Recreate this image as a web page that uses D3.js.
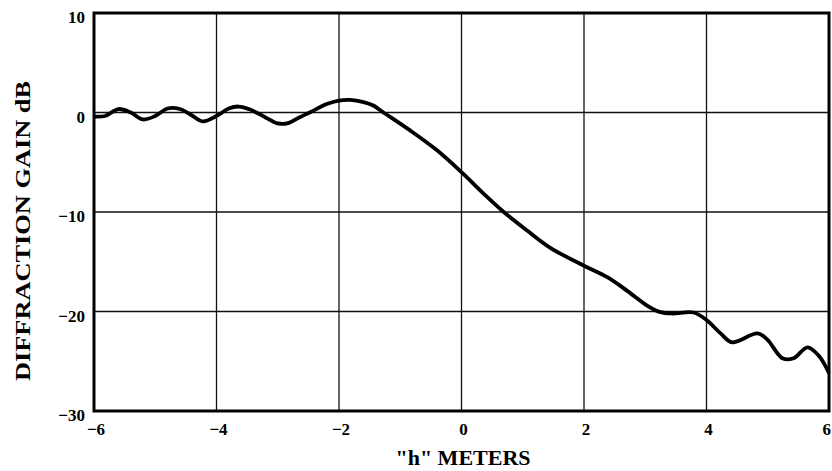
<!DOCTYPE html>
<html>
<head>
<meta charset="utf-8">
<script src="https://cdn.jsdelivr.net/npm/d3@7"></script>
<style>
  html, body { margin: 0; padding: 0; background: #fff; }
  svg { display: block; }
  text { font-family: "Liberation Serif", "Times New Roman", serif; font-weight: bold; fill: #000; }
</style>
</head>
<body>
<svg id="chart" width="832" height="471"></svg>
<script>
// Data
const hMeters = [-6.0, -5.82, -5.6, -5.4, -5.2, -5.0, -4.8, -4.6, -4.4, -4.22, -4.0, -3.8, -3.64, -3.45, -3.2, -3.0, -2.83, -2.65, -2.47, -2.2, -2.0, -1.82, -1.6, -1.44, -1.28, -0.84, -0.4, 0.0, 0.36, 0.69, 1.07, 1.45, 2.0, 2.38, 2.7, 3.03, 3.25, 3.44, 3.79, 4.01, 4.23, 4.42, 4.83, 4.99, 5.24, 5.42, 5.65, 5.84, 6.0];
const gainDb  = [-0.4, -0.35, 0.35, 0.0, -0.7, -0.35, 0.4, 0.35, -0.3, -0.9, -0.35, 0.4, 0.6, 0.3, -0.5, -1.1, -1.07, -0.5, 0.03, 0.85, 1.2, 1.27, 1.05, 0.7, 0.03, -1.8, -3.8, -6.0, -8.15, -10.0, -11.86, -13.6, -15.4, -16.55, -17.9, -19.4, -20.07, -20.2, -20.1, -20.9, -22.2, -23.1, -22.2, -22.8, -24.7, -24.7, -23.6, -24.5, -26.2];
const xTicks = [-6, -4, -2, 0, 2, 4, 6];
const yTicks = [10, 0, -10, -20, -30];
const xTitle = '"h" METERS';
const yTitle = 'DIFFRACTION GAIN dB';

const svg = d3.select("#chart");
const pL = 94, pR = 829, pT = 13, pB = 411;

const x = d3.scaleLinear().domain([-6, 6]).range([pL, pR]);
const y = d3.scaleLinear().domain([-30, 10]).range([pB, pT]);

const fmt = v => (v < 0 ? "\u2212" + Math.abs(v) : String(v));

// grid lines
const g = svg.append("g");
g.selectAll("line.vx").data(xTicks.slice(1, -1)).enter().append("line")
  .attr("x1", d => x(d)).attr("x2", d => x(d))
  .attr("y1", pT).attr("y2", pB)
  .attr("stroke", "#111").attr("stroke-width", 1.3);
g.selectAll("line.hy").data(yTicks.slice(1, -1)).enter().append("line")
  .attr("x1", pL).attr("x2", pR)
  .attr("y1", d => y(d)).attr("y2", d => y(d))
  .attr("stroke", "#111").attr("stroke-width", 1.3);

// frame
svg.append("rect")
  .attr("x", pL).attr("y", pT)
  .attr("width", pR - pL).attr("height", pB - pT)
  .attr("fill", "none").attr("stroke", "#000").attr("stroke-width", 3);

// curve
const pts = hMeters.map((h, i) => [h, gainDb[i]]);
svg.append("path")
  .datum(pts)
  .attr("fill", "none")
  .attr("stroke", "#000")
  .attr("stroke-width", 3.8)
  .attr("stroke-linejoin", "round")
  .attr("d", d3.line().x(d => x(d[0])).y(d => y(d[1])).curve(d3.curveCatmullRom.alpha(0.5)));

// x tick labels
const lastTick = xTicks[xTicks.length - 1];
svg.selectAll("text.xt").data(xTicks).enter().append("text")
  .attr("x", d => d === lastTick ? 831 : x(d) + 2)
  .attr("y", 435)
  .attr("text-anchor", d => d === lastTick ? "end" : "middle")
  .attr("font-size", 17)
  .text(fmt);

// y tick labels
svg.selectAll("text.yt").data(yTicks).enter().append("text")
  .attr("x", 85)
  .attr("y", d => y(d) + 10)
  .attr("text-anchor", "end")
  .attr("font-size", 17)
  .text(fmt);

// axis titles
svg.append("text")
  .attr("x", 463).attr("y", 465)
  .attr("text-anchor", "middle")
  .attr("font-size", 22)
  .text(xTitle);

svg.append("text")
  .attr("transform", "translate(30,231) rotate(-90)")
  .attr("text-anchor", "middle")
  .attr("font-size", 22)
  .attr("textLength", 300)
  .attr("lengthAdjust", "spacingAndGlyphs")
  .text(yTitle);
</script>
</body>
</html>
